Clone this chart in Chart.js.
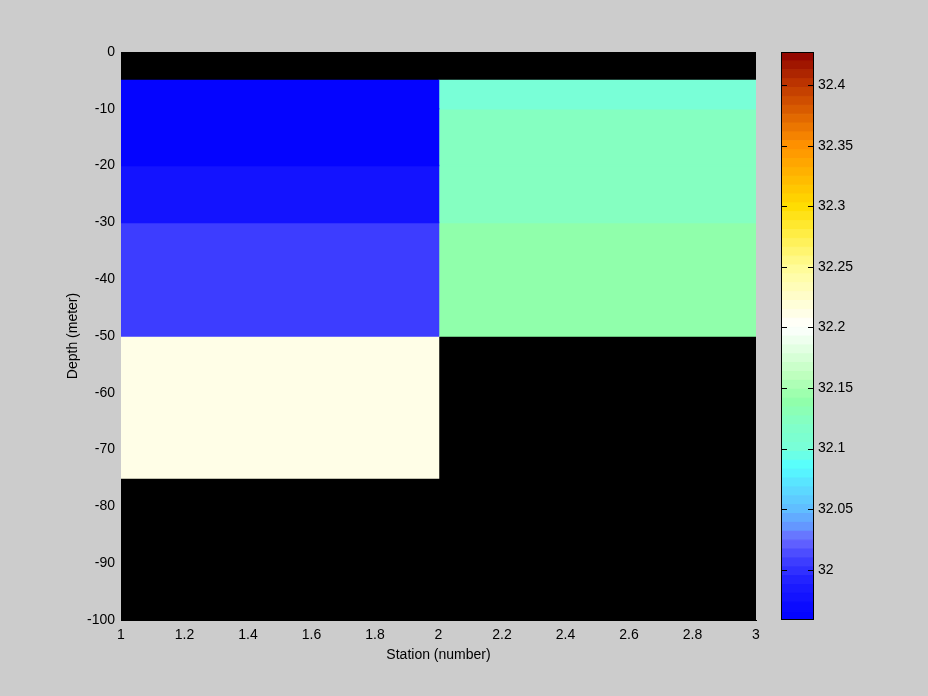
<!DOCTYPE html>
<html>
<head>
<meta charset="utf-8">
<script src="https://cdn.jsdelivr.net/npm/chart.js@4.4.1/dist/chart.umd.min.js"></script>
<style>
  html, body { margin: 0; padding: 0; background: #cccccc; }
  #wrap { position: relative; width: 928px; height: 696px; background: #cccccc; }
  canvas { position: absolute; left: 0; top: 0; }
</style>
</head>
<body>
<div id="wrap">
  <canvas id="main" width="928" height="696"></canvas>
  <canvas id="cbar" width="928" height="696"></canvas>
</div>
<script>
// ---------------- data ----------------
const stationEdges = [1, 2, 3];
const depthEdges = [0, -5, -10, -20, -30, -50, -75, -100];
// salinity per depth layer (null = no data)
const salinityStation1 = [null, 31.96, 31.96, 31.975, 32.008, 32.21, null];
const salinityStation2 = [null, 32.10, 32.12, 32.12, 32.14, null, null];
const xTicks = [1, 1.2, 1.4, 1.6, 1.8, 2, 2.2, 2.4, 2.6, 2.8, 3];
const yTicks = [0, -10, -20, -30, -40, -50, -60, -70, -80, -90, -100];
const colorbarTicks = [32, 32.05, 32.1, 32.15, 32.2, 32.25, 32.3, 32.35, 32.4];
const colorMin = 31.9585;
const colorMax = 32.4274;
const colorLevels = 64;

// ---------------- colormap (styling) ----------------
const cmapAnchors = [
  [31.9585, [0, 0, 255]],
  [31.99, [32, 32, 255]],
  [32.008, [64, 64, 255]],
  [32.025, [105, 105, 255]],
  [32.035, [100, 150, 255]],
  [32.05, [96, 190, 255]],
  [32.07, [90, 225, 255]],
  [32.085, [85, 255, 255]],
  [32.1, [120, 255, 216]],
  [32.12, [130, 255, 198]],
  [32.14, [146, 255, 168]],
  [32.16, [190, 255, 190]],
  [32.2, [255, 255, 255]],
  [32.25, [255, 252, 150]],
  [32.28, [255, 235, 60]],
  [32.3, [255, 220, 0]],
  [32.35, [255, 145, 0]],
  [32.4, [190, 55, 0]],
  [32.4274, [140, 0, 0]]
];
function interp(v) {
  if (v <= cmapAnchors[0][0]) return cmapAnchors[0][1];
  for (let i = 1; i < cmapAnchors.length; i++) {
    const [v1, c1] = cmapAnchors[i];
    const [v0, c0] = cmapAnchors[i - 1];
    if (v <= v1) {
      const t = (v - v0) / (v1 - v0);
      return c0.map((c, k) => Math.round(c + (c1[k] - c) * t));
    }
  }
  return cmapAnchors[cmapAnchors.length - 1][1];
}
function levelColor(k) {
  const vc = colorMin + (k + 0.5) * (colorMax - colorMin) / colorLevels;
  const c = interp(vc);
  return `rgb(${c[0]},${c[1]},${c[2]})`;
}
function colorFor(v) {
  let k = Math.floor((v - colorMin) / (colorMax - colorMin) * colorLevels);
  k = Math.max(0, Math.min(colorLevels - 1, k));
  return levelColor(k);
}
function rectDataset(x0, x1, y0, y1, color, bw) {
  return {
    data: [{x: x0, y: y0}, {x: x1, y: y0}, {x: x1, y: y1}, {x: x0, y: y1}, {x: x0, y: y0}],
    fill: 'shape',
    backgroundColor: color,
    borderColor: color,
    borderWidth: bw,
    pointRadius: 0,
    tension: 0
  };
}

const FONT = {family: '"Liberation Sans", Arial, sans-serif', size: 14};
const fmt = v => String(+(+v).toFixed(2));

// ---------------- main heatmap ----------------
const cellDatasets = [];
[salinityStation1, salinityStation2].forEach((col, i) => {
  col.forEach((v, j) => {
    if (v == null) return;
    cellDatasets.push(rectDataset(stationEdges[i], stationEdges[i + 1], depthEdges[j], depthEdges[j + 1], colorFor(v), 1.5));
  });
});

const blackArea = {
  id: 'blackArea',
  beforeDatasetsDraw(chart) {
    const {ctx, chartArea: a} = chart;
    ctx.save();
    ctx.fillStyle = '#000';
    ctx.fillRect(a.left, a.top, a.right - a.left, a.bottom - a.top);
    ctx.restore();
  }
};

new Chart(document.getElementById('main'), {
  type: 'line',
  data: {datasets: cellDatasets},
  plugins: [blackArea],
  options: {
    responsive: false,
    animation: false,
    events: [],
    devicePixelRatio: 1,
    layout: {padding: {left: 0, right: 172, top: 52, bottom: 0}},
    plugins: {legend: {display: false}, tooltip: {enabled: false}},
    scales: {
      x: {
        type: 'linear', min: 1, max: 3,
        afterBuildTicks: s => { s.ticks = xTicks.map(v => ({value: v})); },
        afterFit: s => { s.height = 76; },
        ticks: {callback: v => fmt(v), color: '#000', font: FONT, padding: 7, maxRotation: 0, autoSkip: false},
        grid: {display: false, drawTicks: false},
        border: {display: true, color: '#000', width: 1},
        title: {display: true, text: 'Station (number)', color: '#000', font: FONT, padding: {top: 0, bottom: 32}}
      },
      y: {
        type: 'linear', min: -100, max: 0,
        afterBuildTicks: s => { s.ticks = yTicks.map(v => ({value: v})); },
        afterFit: s => { s.width = 121; },
        ticks: {callback: v => fmt(v), color: '#000', font: FONT, padding: 6, autoSkip: false},
        grid: {display: false, drawTicks: false},
        border: {display: true, color: '#000', width: 1},
        title: {display: true, text: 'Depth (meter)', color: '#000', font: FONT, padding: {top: 65, bottom: 0}}
      }
    }
  }
});

// ---------------- colorbar ----------------
const barDatasets = [];
for (let k = 0; k < colorLevels; k++) {
  const y0 = colorMin + k * (colorMax - colorMin) / colorLevels;
  const y1 = colorMin + (k + 1) * (colorMax - colorMin) / colorLevels;
  barDatasets.push(rectDataset(0, 1, y0, y1, levelColor(k), 1));
}
const cbarFrame = {
  id: 'cbarFrame',
  afterDraw(chart) {
    const {ctx, chartArea: a} = chart;
    const ys = chart.scales.y;
    ctx.save();
    ctx.strokeStyle = '#000';
    ctx.lineWidth = 1;
    ctx.beginPath();
    colorbarTicks.forEach(v => {
      const py = Math.round(ys.getPixelForValue(v)) + 0.5;
      ctx.moveTo(a.left, py); ctx.lineTo(a.left + 6, py);
      ctx.moveTo(a.right - 6, py); ctx.lineTo(a.right, py);
    });
    ctx.stroke();
    ctx.strokeRect(a.left + 0.5, a.top + 0.5, a.right - a.left - 1, a.bottom - a.top - 1);
    ctx.restore();
  }
};
new Chart(document.getElementById('cbar'), {
  type: 'line',
  data: {datasets: barDatasets},
  plugins: [cbarFrame],
  options: {
    responsive: false,
    animation: false,
    events: [],
    devicePixelRatio: 1,
    layout: {padding: {left: 781, right: 0, top: 52, bottom: 76}},
    plugins: {legend: {display: false}, tooltip: {enabled: false}},
    scales: {
      x: {type: 'linear', min: 0, max: 1, display: false},
      y: {
        type: 'linear', position: 'right', min: colorMin, max: colorMax,
        afterBuildTicks: s => { s.ticks = colorbarTicks.map(v => ({value: v})); },
        afterFit: s => { s.width = 114; },
        ticks: {callback: v => fmt(v), color: '#000', font: FONT, padding: 4, autoSkip: false},
        grid: {display: false, drawTicks: false},
        border: {display: false}
      }
    }
  }
});
</script>
</body>
</html>
